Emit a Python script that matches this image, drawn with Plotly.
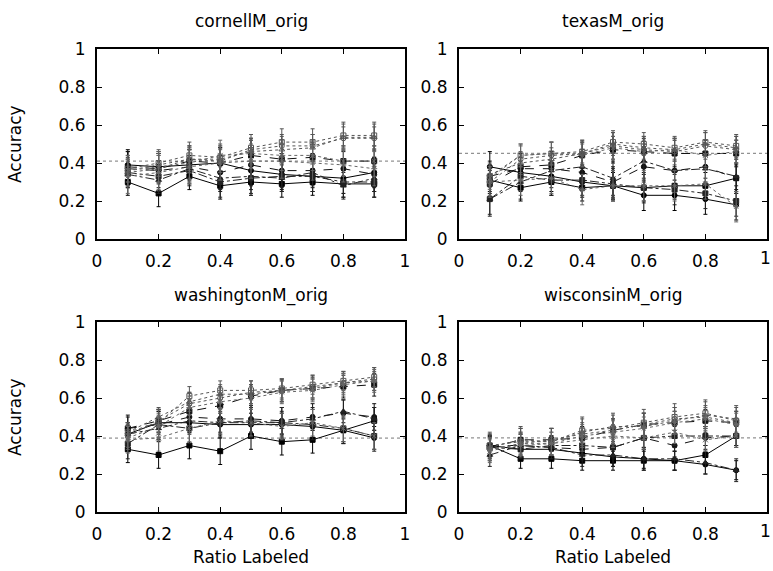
import plotly.graph_objects as go

RATIOS = [0.1, 0.2, 0.3, 0.4, 0.5, 0.6, 0.7, 0.8, 0.9]
TICK_VALS = [0, 0.2, 0.4, 0.6, 0.8, 1]
TICK_TEXT = ["0", "0.2", "0.4", "0.6", "0.8", "1"]
TITLES = ["cornellM_orig", "texasM_orig", "washingtonM_orig", "wisconsinM_orig"]
BASELINES = [0.41, 0.451, 0.389, 0.39]

CORNELL = [
    [0.30, 0.24, 0.33, 0.28, 0.30, 0.29, 0.30, 0.29, 0.29],
    [0.39, 0.38, 0.39, 0.40, 0.36, 0.34, 0.33, 0.32, 0.35],
    [0.38, 0.37, 0.41, 0.40, 0.44, 0.42, 0.43, 0.41, 0.41],
    [0.37, 0.36, 0.38, 0.35, 0.39, 0.36, 0.36, 0.37, 0.34],
    [0.34, 0.31, 0.37, 0.32, 0.33, 0.32, 0.35, 0.28, 0.32],
    [0.35, 0.33, 0.36, 0.30, 0.32, 0.33, 0.33, 0.30, 0.30],
    [0.37, 0.40, 0.44, 0.43, 0.48, 0.51, 0.51, 0.545, 0.545],
    [0.36, 0.39, 0.42, 0.41, 0.47, 0.49, 0.49, 0.53, 0.53],
    [0.36, 0.38, 0.40, 0.44, 0.45, 0.44, 0.44, 0.41, 0.41],
    [0.35, 0.37, 0.42, 0.42, 0.46, 0.47, 0.48, 0.535, 0.535],
    [0.33, 0.35, 0.38, 0.40, 0.41, 0.41, 0.40, 0.39, 0.37],
]
TEXAS = [
    [0.31, 0.27, 0.30, 0.27, 0.28, 0.27, 0.28, 0.28, 0.32],
    [0.38, 0.35, 0.33, 0.30, 0.28, 0.23, 0.23, 0.21, 0.18],
    [0.29, 0.38, 0.39, 0.44, 0.47, 0.46, 0.45, 0.45, 0.45],
    [0.33, 0.37, 0.37, 0.35, 0.30, 0.38, 0.36, 0.38, 0.32],
    [0.21, 0.30, 0.36, 0.38, 0.32, 0.41, 0.36, 0.37, 0.33],
    [0.21, 0.33, 0.31, 0.31, 0.29, 0.27, 0.26, 0.24, 0.20],
    [0.33, 0.44, 0.45, 0.46, 0.51, 0.50, 0.48, 0.51, 0.49],
    [0.30, 0.42, 0.44, 0.45, 0.49, 0.47, 0.46, 0.49, 0.47],
    [0.32, 0.44, 0.45, 0.44, 0.48, 0.46, 0.47, 0.44, 0.46],
    [0.34, 0.40, 0.42, 0.45, 0.50, 0.48, 0.47, 0.50, 0.48],
    [0.30, 0.31, 0.32, 0.26, 0.28, 0.28, 0.28, 0.29, 0.17],
]
WASHINGTON = [
    [0.33, 0.30, 0.35, 0.32, 0.40, 0.37, 0.38, 0.43, 0.48],
    [0.41, 0.47, 0.47, 0.46, 0.46, 0.46, 0.45, 0.43, 0.39],
    [0.44, 0.48, 0.53, 0.56, 0.61, 0.64, 0.65, 0.66, 0.67],
    [0.44, 0.46, 0.50, 0.49, 0.49, 0.48, 0.50, 0.52, 0.50],
    [0.41, 0.44, 0.48, 0.47, 0.48, 0.47, 0.49, 0.53, 0.49],
    [0.36, 0.46, 0.44, 0.47, 0.47, 0.47, 0.46, 0.44, 0.40],
    [0.42, 0.47, 0.61, 0.64, 0.64, 0.65, 0.67, 0.69, 0.71],
    [0.40, 0.48, 0.57, 0.60, 0.63, 0.64, 0.66, 0.68, 0.70],
    [0.38, 0.39, 0.44, 0.48, 0.47, 0.45, 0.47, 0.44, 0.40],
    [0.42, 0.50, 0.58, 0.62, 0.62, 0.64, 0.65, 0.68, 0.69],
    [0.39, 0.45, 0.55, 0.58, 0.60, 0.63, 0.64, 0.67, 0.69],
]
WISCONSIN = [
    [0.35, 0.28, 0.28, 0.27, 0.27, 0.27, 0.27, 0.30, 0.40],
    [0.35, 0.33, 0.33, 0.31, 0.29, 0.28, 0.27, 0.25, 0.22],
    [0.34, 0.38, 0.38, 0.39, 0.43, 0.46, 0.47, 0.48, 0.47],
    [0.35, 0.35, 0.34, 0.33, 0.34, 0.39, 0.35, 0.39, 0.40],
    [0.30, 0.35, 0.34, 0.30, 0.30, 0.28, 0.28, 0.26, 0.22],
    [0.34, 0.33, 0.35, 0.35, 0.34, 0.39, 0.40, 0.40, 0.40],
    [0.35, 0.37, 0.37, 0.43, 0.44, 0.47, 0.50, 0.52, 0.48],
    [0.33, 0.36, 0.38, 0.41, 0.43, 0.46, 0.49, 0.50, 0.47],
    [0.32, 0.36, 0.36, 0.38, 0.40, 0.39, 0.42, 0.38, 0.40],
    [0.34, 0.38, 0.37, 0.42, 0.45, 0.45, 0.48, 0.51, 0.49],
    [0.33, 0.35, 0.36, 0.40, 0.42, 0.44, 0.47, 0.49, 0.46],
]
# error half-widths, one per series in each panel
CORNELL_ERR = [0.07, 0.08, 0.08, 0.09, 0.07, 0.08, 0.07, 0.06, 0.08, 0.07, 0.09]
TEXAS_ERR = [0.07, 0.08, 0.07, 0.08, 0.09, 0.08, 0.06, 0.07, 0.06, 0.06, 0.08]
WASHINGTON_ERR = [0.07, 0.06, 0.06, 0.07, 0.06, 0.08, 0.05, 0.06, 0.07, 0.05, 0.06]
WISCONSIN_ERR = [0.05, 0.05, 0.06, 0.06, 0.06, 0.05, 0.07, 0.06, 0.06, 0.07, 0.06]

PANELS = [CORNELL, TEXAS, WASHINGTON, WISCONSIN]
PANEL_ERR = [CORNELL_ERR, TEXAS_ERR, WASHINGTON_ERR, WISCONSIN_ERR]

DASHES = ["solid", "solid", "dash", "dash", "dashdot", "dashdot",
          "dot", "dot", "dot", "dot", "dot"]
SYMBOLS = ["square", "circle", "square", "circle", "triangle-up", "square",
           "square-open", "circle-open", "x-thin-open", "triangle-up-open", "asterisk-open"]
COLORS = ["#000000", "#000000", "#111111", "#111111", "#222222", "#222222",
          "#555555", "#555555", "#666666", "#555555", "#666666"]

W, H = 773, 571
XDOM = [[97 / W, 405 / W], [459 / W, 767 / W]]
YDOM = [[1 - 239 / H, 1 - 49 / H], [1 - 512 / H, 1 - 322 / H]]
FONT = "DejaVu Sans"

fig = go.Figure()
for p, (series, errs) in enumerate(zip(PANELS, PANEL_ERR)):
    ax = "" if p == 0 else str(p + 1)
    xa, ya = "x" + ax, "y" + ax
    fig.add_trace(go.Scatter(
        x=[0, 1], y=[BASELINES[p], BASELINES[p]], mode="lines",
        line=dict(color="#777777", width=1, dash="dot"),
        xaxis=xa, yaxis=ya, showlegend=False, hoverinfo="skip"))
    for i, vals in enumerate(series):
        fig.add_trace(go.Scatter(
            x=RATIOS, y=vals, mode="lines+markers",
            line=dict(color=COLORS[i], width=1, dash=DASHES[i]),
            marker=dict(symbol=SYMBOLS[i], size=5, color=COLORS[i],
                        line=dict(color=COLORS[i], width=1)),
            error_y=dict(type="constant", value=errs[i], color=COLORS[i],
                         thickness=1, width=2),
            xaxis=xa, yaxis=ya, showlegend=False))

layout = dict(
    width=W, height=H, margin=dict(l=0, r=0, t=0, b=0),
    paper_bgcolor="white", plot_bgcolor="white",
    font=dict(family=FONT, size=17, color="black"),
    showlegend=False,
)
annotations = []
for p in range(4):
    r, c = divmod(p, 2)
    ax = "" if p == 0 else str(p + 1)
    common = dict(range=[0, 1], tickvals=TICK_VALS,
                  ticks="inside", ticklen=5, tickwidth=1, tickcolor="black",
                  showline=True, linecolor="black", linewidth=2, mirror="allticks",
                  showgrid=False, zeroline=False, ticklabelstandoff=6,
                  automargin=False,
                  tickfont=dict(family=FONT, size=17, color="black"))
    # the right column's last x label sits at the page edge: drawn as an annotation
    xtext = TICK_TEXT if c == 0 else TICK_TEXT[:-1] + [""]
    layout["xaxis" + ax] = dict(common, ticktext=xtext, domain=XDOM[c], anchor="y" + ax)
    layout["yaxis" + ax] = dict(common, ticktext=TICK_TEXT, domain=YDOM[r], anchor="x" + ax)
    xc = (XDOM[c][0] + XDOM[c][1]) / 2
    annotations.append(dict(text=TITLES[p], x=xc, y=1 - (22 if r == 0 else 295) / H,
                            xref="paper", yref="paper", showarrow=False,
                            xanchor="center", yanchor="middle",
                            font=dict(family=FONT, size=17)))
    if c == 1:
        annotations.append(dict(text=TICK_TEXT[-1], x=1, xref="paper",
                                y=1 - (258 if r == 0 else 531) / H, yref="paper",
                                showarrow=False, xanchor="right", yanchor="middle",
                                font=dict(family=FONT, size=17)))
    if r == 1:
        annotations.append(dict(text="Ratio Labeled", x=xc, y=1 - 557 / H,
                                xref="paper", yref="paper", showarrow=False,
                                xanchor="center", yanchor="middle",
                                font=dict(family=FONT, size=17)))
    if c == 0:
        yc = (YDOM[r][0] + YDOM[r][1]) / 2
        annotations.append(dict(text="Accuracy", x=15 / W, y=yc, textangle=-90,
                                xref="paper", yref="paper", showarrow=False,
                                xanchor="center", yanchor="middle",
                                font=dict(family=FONT, size=17)))
layout["annotations"] = annotations
fig.update_layout(**layout)
fig.write_html("out.html", config={"displayModeBar": False},
               post_script="document.body.style.margin='0';document.body.style.overflow='hidden';")
